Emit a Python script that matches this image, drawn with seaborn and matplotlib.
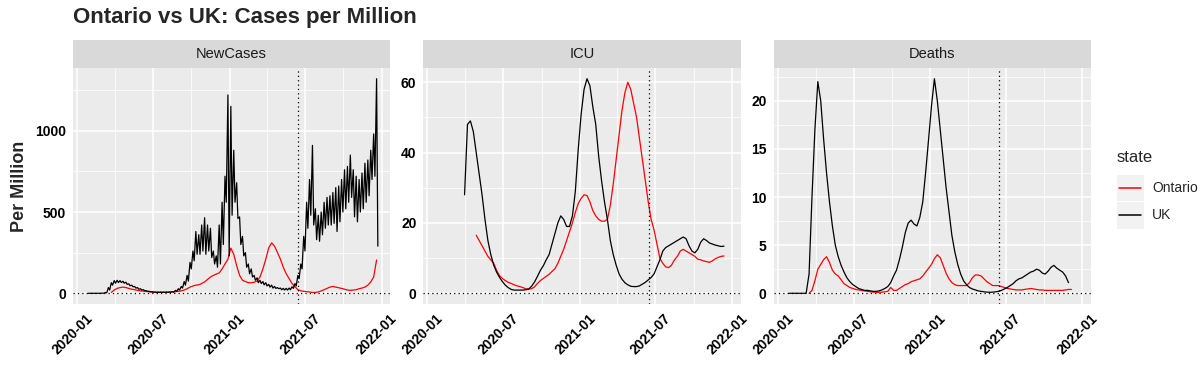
import matplotlib
matplotlib.use("Agg")
import matplotlib.pyplot as plt
import matplotlib.dates as mdates
import matplotlib.ticker as mticker
import matplotlib.transforms as mtrans
from matplotlib.patches import Rectangle
from matplotlib.lines import Line2D
import numpy as np
import pandas as pd
import seaborn as sns

# weekly samples (per million)
weeks = pd.date_range("2020-01-27", periods=100, freq="7D")
panels = ["NewCases", "ICU", "Deaths"]
states = ["Ontario", "UK"]
cutoff = pd.Timestamp("2021-06-15")

# UK new cases swing a lot inside each week: weekday highs / weekend lows
uk_cases_hi = [0, 0, 0, 0, 0, 1, 5, 35, 65, 78, 80, 78, 74, 68, 58, 50, 42, 35, 28, 22,
               16, 12, 10, 8, 8, 8, 8, 8, 9, 10, 18, 28, 42, 72, 110, 190, 260, 380, 360, 420,
               465, 420, 400, 260, 230, 420, 560, 720, 1220, 1150, 880, 680, 470, 350, 250, 180, 150, 110, 95, 80,
               72, 65, 55, 50, 42, 35, 32, 30, 30, 32, 40, 60, 110, 180, 350, 560, 700, 910, 520, 480,
               500, 560, 590, 600, 620, 650, 660, 700, 760, 780, 850, 760, 720, 700, 740, 800, 820, 880, 980, 1320]
uk_cases_lo = [0, 0, 0, 0, 0, 0, 3, 20, 50, 62, 66, 66, 62, 55, 46, 40, 32, 25, 20, 16,
               12, 9, 7, 5, 5, 5, 5, 5, 6, 7, 12, 20, 32, 50, 75, 150, 200, 240, 240, 260,
               240, 260, 220, 180, 160, 180, 300, 560, 230, 480, 560, 460, 300, 230, 160, 120, 100, 80, 65, 60,
               52, 45, 38, 32, 30, 28, 22, 20, 20, 22, 30, 45, 90, 150, 260, 400, 480, 420, 330, 320,
               360, 400, 420, 420, 430, 380, 440, 500, 520, 560, 590, 470, 440, 500, 520, 560, 600, 700, 720, 290]
on_cases = [None] * 8 + [
    5, 20, 30, 35, 38, 35, 30, 25, 22, 18, 15, 13, 11, 9, 7, 6, 6, 6, 6, 6,
    7, 8, 9, 12, 15, 20, 28, 38, 45, 50, 52, 60, 70, 85, 100, 110, 118, 125, 150, 180,
    210, 278, 240, 170, 110, 80, 72, 65, 65, 68, 75, 100, 150, 210, 280, 310, 290, 250, 210, 160,
    120, 90, 60, 40, 22, 15, 12, 10, 8, 5, 5, 8, 14, 22, 30, 38, 42, 38, 34, 30,
    25, 20, 18, 20, 22, 28, 32, 38, 50, 70, 100, 205]

uk_icu = [None] * 9 + [
    28, 48, 49, 46, 40, 34, 28, 21, 15, 11, 8, 6, 4.5, 3.3, 2.3, 1.6, 1.1, 0.9, 0.9, 0.9,
    0.9, 1.0, 1.2, 2.0, 3.2, 4.8, 6.5, 7.8, 9.5, 11, 14, 17, 20, 22, 21, 19, 19, 22, 29, 41,
    51, 58, 61, 59, 53, 48, 39, 32, 26, 21, 15, 11, 8, 5.5, 4, 3, 2.4, 2, 1.9, 1.9,
    2.1, 2.6, 3.1, 3.8, 4.5, 5.5, 7.5, 9.5, 12, 13, 13.5, 14, 14.5, 15, 15.5, 16, 15.5, 13.5, 12, 11.5,
    12.5, 14.5, 15.5, 15, 14.3, 14, 13.7, 13.5, 13.3, 13.4]
on_icu = [None] * 13 + [
    16.5, 15, 13.5, 12, 10.5, 9.5, 8.5, 6.5, 5, 4.2, 3.6, 3.1, 2.8, 2.4, 2.1, 1.9, 1.6, 1.3, 1.2, 1.3,
    1.8, 2.8, 3.6, 4.2, 4.8, 5.4, 6.2, 7, 8.5, 10.5, 12.5, 15, 17.5, 20, 23, 25.5, 27, 28, 27.8, 26,
    23.5, 22, 21, 20.5, 20.5, 21, 25, 31, 38, 45, 52, 57, 60, 58, 54, 50, 44, 38, 32, 26,
    21, 18, 14, 10, 8.5, 7.5, 7.3, 8, 9.5, 10.5, 12, 12.5, 12, 11.5, 11, 10.5, 9.7, 9.5, 9.2, 9,
    8.8, 9.2, 9.8, 10.2, 10.5, 10.6]

uk_deaths = [0, 0, 0, 0, 0, 0, 0, 2, 10, 17, 22, 20, 16, 12.5, 9.5, 7, 5, 3.8, 2.9, 2.2,
             1.6, 1.2, 0.9, 0.7, 0.5, 0.4, 0.3, 0.3, 0.25, 0.2, 0.2, 0.25, 0.35, 0.5, 0.7, 1.1, 1.8, 2.4, 3.5, 4.8,
             6.3, 7.3, 7.6, 7.2, 7.0, 7.9, 9.5, 12.6, 16, 19.5, 22.3, 20, 17, 14, 11, 8.5, 6, 4.3, 3, 2,
             1.3, 0.9, 0.6, 0.45, 0.35, 0.25, 0.2, 0.15, 0.12, 0.1, 0.12, 0.15, 0.2, 0.3, 0.45, 0.6, 0.8, 1.0, 1.3, 1.5,
             1.6, 1.8, 2.0, 2.2, 2.3, 2.5, 2.4, 2.1, 2.0, 2.3, 2.7, 2.9, 2.6, 2.4, 2.2, 1.8, 1.1]
on_deaths = [None] * 7 + [
    0, 0.3, 1.3, 2.5, 3.0, 3.5, 3.8, 3.2, 2.4, 2.0, 1.8, 1.4, 1.0, 0.8, 0.6, 0.5, 0.4, 0.35, 0.3, 0.25,
    0.2, 0.15, 0.12, 0.1, 0.1, 0.12, 0.15, 0.2, 0.6, 0.3, 0.3, 0.5, 0.7, 0.9, 1.0, 1.2, 1.3, 1.4, 1.5, 1.8,
    2.2, 2.6, 3.0, 3.6, 4.0, 3.7, 2.9, 2.1, 1.5, 1.1, 0.9, 0.8, 0.8, 0.8, 0.8, 1.1, 1.6, 1.9, 1.9, 1.8,
    1.5, 1.2, 1.0, 0.8, 0.8, 0.8, 0.7, 0.6, 0.5, 0.45, 0.4, 0.35, 0.35, 0.35, 0.4, 0.45, 0.5, 0.45, 0.4, 0.35,
    0.35, 0.3, 0.3, 0.3, 0.3, 0.3, 0.3, 0.3, 0.35, 0.4, 0.4]


def frame(dates, vals, state, panel):
    return pd.DataFrame({"date": dates[:len(vals)], "value": vals,
                         "state": state, "panel": panel})


df = pd.concat([
    frame(weeks, uk_cases_hi, "UK", "NewCases"),
    frame(weeks + pd.Timedelta(days=3), uk_cases_lo, "UK", "NewCases"),
    frame(weeks, on_cases, "Ontario", "NewCases"),
    frame(weeks, uk_icu, "UK", "ICU"),
    frame(weeks, on_icu, "Ontario", "ICU"),
    frame(weeks, uk_deaths, "UK", "Deaths"),
    frame(weeks, on_deaths, "Ontario", "Deaths"),
], ignore_index=True).dropna()
df["value"] = df["value"].astype(float)

sns.set_style("darkgrid", {"axes.facecolor": "#EBEBEB", "grid.color": "white"})
plt.rcParams["font.family"] = ["Liberation Sans", "DejaVu Sans"]

colors = {"Ontario": "#FF0000", "UK": "black"}
g = sns.relplot(data=df, x="date", y="value", hue="state", col="panel", kind="line",
                col_order=panels, hue_order=states, palette=colors, estimator=None,
                linewidth=0.9, legend=False, facet_kws={"sharey": False, "sharex": True})
fig = g.figure
fig.set_size_inches(12, 3.77)
fig.subplots_adjust(left=73 / 1200, right=1091 / 1200, top=1 - 68 / 377,
                    bottom=1 - 304 / 377, wspace=0.104)

y_major = {"NewCases": 500, "ICU": 20, "Deaths": 5}
offset = mtrans.ScaledTranslation(6 / 72, 0, fig.dpi_scale_trans)
for ax, name in zip(g.axes.flat, panels):
    ax.set_title("")
    ax.set_xlabel("")
    ax.set_ylabel("")
    ax.axhline(0, color="black", lw=0.9, ls=(0, (1, 2.5)), zorder=3)
    ax.axvline(cutoff, color="black", lw=0.9, ls=(0, (1, 2.5)), zorder=3)
    ax.set_xlim(pd.Timestamp("2019-12-22"), pd.Timestamp("2022-01-22"))
    ax.margins(y=0.05)
    ax.xaxis.set_major_locator(mdates.MonthLocator(bymonth=[1, 7]))
    ax.xaxis.set_minor_locator(mdates.MonthLocator(bymonth=[4, 10]))
    ax.xaxis.set_major_formatter(mdates.DateFormatter("%Y-%m"))
    ax.yaxis.set_major_locator(mticker.MultipleLocator(y_major[name]))
    ax.yaxis.set_minor_locator(mticker.MultipleLocator(y_major[name] / 2))
    ax.grid(which="major", color="white", lw=1.1)
    ax.grid(which="minor", color="white", lw=0.55)
    ax.tick_params(which="major", length=3, width=0.8, color="#333333", pad=2,
                   labelsize=10, labelcolor="black")
    ax.tick_params(which="minor", length=0)
    for s in ax.spines.values():
        s.set_visible(False)
    for lab in ax.get_yticklabels():
        lab.set_fontweight("bold")
    for lab in ax.get_xticklabels():
        lab.set_fontweight("bold")
        lab.set_rotation(45)
        lab.set_ha("right")
        lab.set_va("top")
        lab.set_rotation_mode("anchor")
        lab.set_transform(lab.get_transform() + offset)
    # ggplot-style strip
    h = 28 / 236
    ax.add_patch(Rectangle((0, 1), 1, h, transform=ax.transAxes, clip_on=False,
                           facecolor="#D9D9D9", edgecolor="none"))
    ax.text(0.5, 1 + h / 2, name, transform=ax.transAxes, ha="center", va="center",
            fontsize=10.5, color="#1A1A1A")

fig.text(73 / 1200, 1 - 18 / 377, "Ontario vs UK: Cases per Million",
         fontsize=16, fontweight="bold", va="center", ha="left")
fig.text(20 / 1200, 1 - 186 / 377, "Per Million", rotation=90, fontsize=13,
         fontweight="bold", va="center", ha="center")

# legend drawn like ggplot: title, grey key boxes, labels
W, H = 1200, 377
fig.text(1117 / W, 1 - 157 / H, "state", fontsize=12, va="center", ha="left")
for i, st in enumerate(states):
    yc = 188 + 27 * i
    fig.patches.append(Rectangle((1117 / W, 1 - (yc + 13.5) / H), 27 / W, 27 / H,
                                 transform=fig.transFigure, facecolor="#F2F2F2",
                                 edgecolor="none", zorder=1))
    fig.lines.append(Line2D([1119 / W, 1141 / W], [1 - yc / H, 1 - yc / H],
                            transform=fig.transFigure, color=colors[st], lw=1.1, zorder=2))
    fig.text(1152 / W, 1 - yc / H, st, fontsize=10, va="center", ha="left")

fig.savefig("out.png", dpi=100, facecolor="white")
